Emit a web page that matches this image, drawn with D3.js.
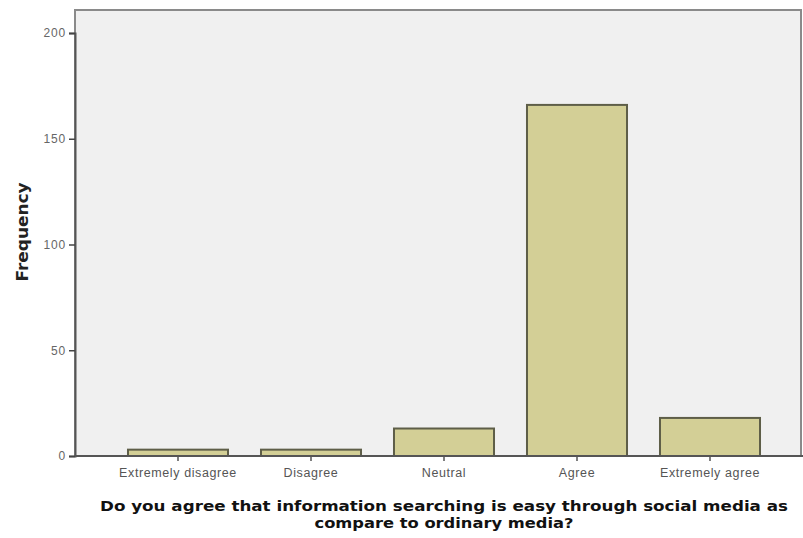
<!DOCTYPE html>
<html><head><meta charset="utf-8">
<script src="https://cdn.jsdelivr.net/npm/d3@7"></script>
<style>body{margin:0;background:#fff}svg{display:block}</style>
</head><body><svg id="c" width="803" height="538"></svg>
<script>
const categories = ["Extremely disagree","Disagree","Neutral","Agree","Extremely agree"];
const frequencies = [3,3,13,166,18];
const yTicks = [0,50,100,150,200];
const xTitle = ["Do you agree that information searching is easy through social media as","compare to ordinary media?"];
const xTitleWidths = [688,259];
const yTitle = "Frequency";

const svg = d3.select("#c");
const plot = {left:75, top:10, right:801, bottom:456};
const y = d3.scaleLinear().domain([0,200]).range([456,33]);
const x = d3.scaleBand().domain(categories).range([111.5,776.5]).paddingInner(0.248).paddingOuter(0.124);

svg.append("rect").attr("x",plot.left).attr("y",plot.top).attr("width",plot.right-plot.left).attr("height",plot.bottom-plot.top)
  .attr("fill","#f0f0f0").attr("stroke","#8a8a8a").attr("stroke-width",2);

svg.selectAll("rect.bar").data(frequencies).enter().append("rect").attr("class","bar")
  .attr("x",(d,i)=>x(categories[i])).attr("y",d=>y(d)).attr("width",x.bandwidth()).attr("height",d=>y(0)-y(d))
  .attr("fill","#d3cf96").attr("stroke","#5e5e48").attr("stroke-width",2);

// axes
const ya = d3.axisLeft(y).tickValues(yTicks).tickSize(6).tickPadding(3);
const gy = svg.append("g").attr("transform",`translate(${plot.left},0)`).call(ya);
gy.select(".domain").attr("stroke","#555").attr("stroke-width",2);
gy.selectAll(".tick line").attr("stroke","#444").attr("stroke-width",1.5);
gy.selectAll(".tick text").attr("font-family","Liberation Sans, Arial, sans-serif").attr("font-size",12).attr("letter-spacing","0.8px").attr("fill","#666");

const xa = d3.axisBottom(x).tickSize(5).tickPadding(7).tickSizeOuter(0);
const gx = svg.append("g").attr("transform",`translate(0,${plot.bottom})`).call(xa);
gx.select(".domain").remove();
gx.append("line").attr("x1",plot.left).attr("x2",plot.right+2).attr("stroke","#555").attr("stroke-width",2);
gx.selectAll(".tick line").attr("stroke","#555").attr("stroke-width",1.5);
gx.selectAll(".tick text").attr("font-family","Liberation Sans, Arial, sans-serif").attr("font-size",12.5).attr("letter-spacing","0.6px").attr("fill","#555");

svg.append("text").attr("transform","translate(28,232) rotate(-90)").attr("text-anchor","middle")
  .attr("font-family","DejaVu Sans, Verdana, sans-serif").attr("font-weight","bold").attr("font-size",15)
  .attr("textLength",99).attr("lengthAdjust","spacingAndGlyphs").attr("fill","#222").text(yTitle);

svg.selectAll("text.xt").data(xTitle).enter().append("text").attr("class","xt")
  .attr("x",444).attr("y",(d,i)=>511+i*17).attr("text-anchor","middle")
  .attr("font-family","DejaVu Sans, Verdana, sans-serif").attr("font-weight","bold").attr("font-size",14.5)
  .attr("textLength",(d,i)=>xTitleWidths[i]).attr("lengthAdjust","spacingAndGlyphs")
  .attr("fill","#111").text(d=>d);
</script></body></html>
